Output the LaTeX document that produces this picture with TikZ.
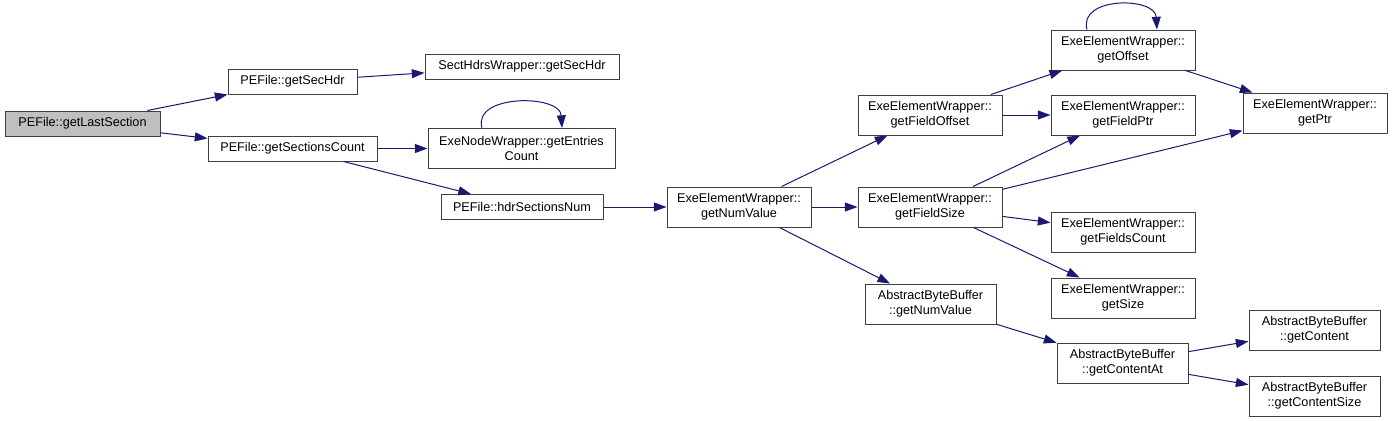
\documentclass[tikz,border=0pt]{standalone}
\usepackage{fontspec}
\setmainfont{Liberation Sans}
\usepackage{xcolor}
\usetikzlibrary{arrows.meta, calc}
\definecolor{edgeblue}{HTML}{191970}

\begin{document}
\begin{tikzpicture}[
  x=0.75pt, y=-0.75pt,
  fn/.style={rectangle, draw=black!75, line width=0.75pt, fill=white, inner sep=1pt,
             align=center, font=\fontsize{9.5}{11.25}\selectfont,
             minimum width=#1*0.75pt, minimum height=18.75pt},
  fn2/.style={fn=#1, minimum height=30pt},
  root/.style={fn=#1, fill=black!25},
  call/.style={-{Triangle[length=9.5pt, width=6.75pt]}, line width=0.75pt, color=edgeblue}
]
\useasboundingbox (0,0) rectangle (1392,421);

\node[root=155] (last) at (82.5,123.5) {PEFile::getLastSection};
\node[fn=129] (sechdr) at (292.5,81.5) {PEFile::getSecHdr};
\node[fn=169] (seccount) at (292.5,148.5) {PEFile::getSectionsCount};
\node[fn=194] (wrapsechdr) at (522,66.5) {SectHdrsWrapper::getSecHdr};
\node[fn2=187] (entries) at (521.5,148.5) {ExeNodeWrapper::getEntries\\Count};
\node[fn=162] (hdrnum) at (522,207) {PEFile::hdrSectionsNum};
\node[fn2=144] (numval) at (739,207) {ExeElementWrapper::\\getNumValue};
\node[fn2=144] (fieldoff) at (930,115) {ExeElementWrapper::\\getFieldOffset};
\node[fn2=144] (fieldsize) at (930,207) {ExeElementWrapper::\\getFieldSize};
\node[fn2=131] (bufnum) at (930.5,304) {AbstractByteBuffer\\::getNumValue};
\node[fn2=144] (offset) at (1123,50) {ExeElementWrapper::\\getOffset};
\node[fn2=144] (fieldptr) at (1123,115) {ExeElementWrapper::\\getFieldPtr};
\node[fn2=144] (fieldscount) at (1123,232) {ExeElementWrapper::\\getFieldsCount};
\node[fn2=144] (size) at (1123,298) {ExeElementWrapper::\\getSize};
\node[fn2=131] (contentat) at (1122.5,363) {AbstractByteBuffer\\::getContentAt};
\node[fn2=144] (ptr) at (1315,113) {ExeElementWrapper::\\getPtr};
\node[fn2=131] (content) at (1314.5,330) {AbstractByteBuffer\\::getContent};
\node[fn2=131] (contentsize) at (1314.5,396) {AbstractByteBuffer\\::getContentSize};

\draw[call] (last) -- (sechdr);
\draw[call] (last) -- (seccount);
\draw[call] (sechdr) -- (wrapsechdr);
\draw[call] (seccount) -- (entries);
\draw[call] (seccount) -- (hdrnum);
\draw[call] ($(entries.north)+(-39.5,0)$) .. controls +(-10,-34) and +(-2,-34) .. ($(entries.north)+(40.5,0)$);
\draw[call] (hdrnum) -- (numval);
\draw[call] (numval) -- (fieldoff);
\draw[call] (numval) -- (fieldsize);
\draw[call] (numval) -- (bufnum);
\draw[call] (fieldoff) -- (offset);
\draw[call] (fieldoff) -- (fieldptr);
\draw[call] (fieldsize) -- (fieldptr);
\draw[call] (fieldsize) -- (ptr);
\draw[call] (fieldsize) -- (fieldscount);
\draw[call] (fieldsize) -- (size);
\draw[call] ($(offset.north)+(-36,0)$) .. controls +(-9,-33) and +(-2,-33) .. ($(offset.north)+(34,0)$);
\draw[call] (offset) -- (ptr);
\draw[call] (bufnum) -- (contentat);
\draw[call] (contentat) -- (content);
\draw[call] (contentat) -- (contentsize);

\end{tikzpicture}
\end{document}
